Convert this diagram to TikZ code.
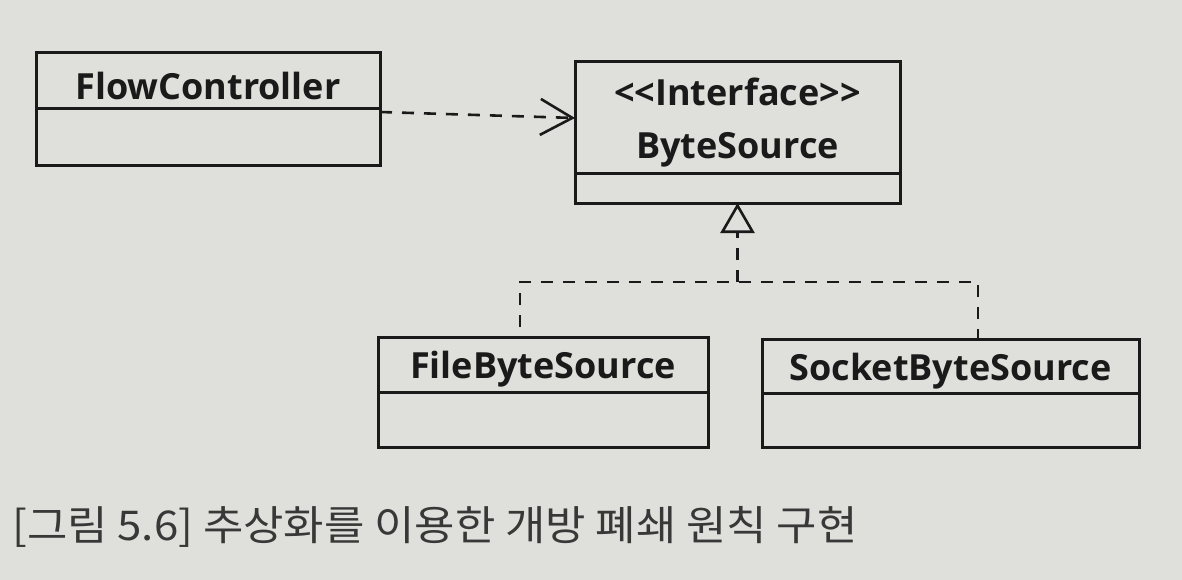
\documentclass[tikz,border=0pt]{standalone}
\usepackage{fontspec}
\setmainfont{Open Sans}
\newfontfamily\krfont{Noto Sans CJK KR}
\usetikzlibrary{arrows.meta}
\definecolor{paper}{HTML}{DFDFDB}
\definecolor{ink}{HTML}{1A1A1A}
\definecolor{captioncol}{HTML}{383838}
\newcommand{\lowline}[1]{\raisebox{-5pt}[\height][\depth]{#1}}
\begin{document}
\begin{tikzpicture}[x=1pt,y=-1pt,
  cls/.style={draw=ink, line width=3pt, rectangle, inner sep=0pt, outer sep=0pt, anchor=north west,
    font=\bfseries\fontsize{36}{53}\selectfont, text=ink, align=center},
  body/.style={draw=ink, line width=3pt, rectangle, inner sep=0pt, outer sep=0pt, anchor=north},
  dep/.style={draw=ink, line width=2.6pt, dash pattern=on 12pt off 10pt},
  barb/.style={-{Straight Barb[length=32pt,width=36pt,line width=2.6pt]}},
  realize/.style={-{Triangle[open,length=30pt,width=34pt,line width=2.6pt]}}]
\fill[paper] (0,0) rectangle (1182,580);
\useasboundingbox (0,0) rectangle (1182,580);

% FlowController
\node[cls, minimum width=344pt, minimum height=56pt] (fc) at (36,53) {\lowline{FlowController}};
\node[body, minimum width=344pt, minimum height=57pt] (fcb) at (fc.south) {};

% ByteSource interface
\node[cls, minimum width=325pt, minimum height=112pt] (bs) at (575,62) {\lowline{{<}{<}Interface{>}{>}}\\\lowline{ByteSource}};
\node[body, minimum width=325pt, minimum height=29pt] (bsb) at (bs.south) {};

% FileByteSource
\node[cls, minimum width=330pt, minimum height=55pt] (fbs) at (378,337) {\lowline{FileByteSource}};
\node[body, minimum width=330pt, minimum height=55pt] (fbsb) at (fbs.south) {};

% SocketByteSource
\node[cls, minimum width=377pt, minimum height=54pt] (sbs) at (762,339) {\lowline{SocketByteSource}};
\node[body, minimum width=377pt, minimum height=54pt] (sbsb) at (sbs.south) {};

% dependency
\draw[dep, barb] ([yshift=-3pt]fc.south east) -- (bs.west);

% realization
\coordinate (jy) at (0,282);
\coordinate (j) at (bsb.south |- jy);
\coordinate (jl) at (520,282);
\coordinate (jr) at (978,282);
\draw[dep, dash phase=12pt] (jl |- fbs.north) -- (jl) -- (jr) -- (jr |- sbs.north);
\draw[dep, realize] (j) -- (bsb.south);

% caption
\node[anchor=west, inner sep=0pt, xscale=1.07, transform shape, font=\krfont\fontsize{41}{45}\selectfont, text=captioncol] (cap) at (12,527) {[그림 5.6] 추상화를 이용한 개방 폐쇄 원칙 구현};
\end{tikzpicture}
\end{document}
